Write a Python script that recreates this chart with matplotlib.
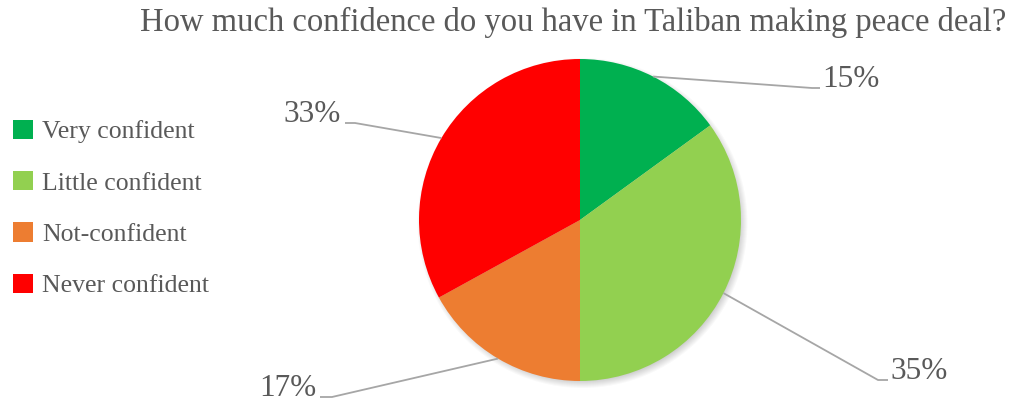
import matplotlib.pyplot as plt
import matplotlib.patches as mpatches
import numpy as np

categories = ["Very confident", "Little confident", "Not-confident", "Never confident"]
shares = [15, 35, 17, 33]
colors = ["#00b050", "#92d050", "#ed7d31", "#ff0000"]
title = "How much confidence do you have in Taliban making peace deal?"

W, H = 1011, 403
fig = plt.figure(figsize=(W / 100, H / 100), dpi=100)
ax = fig.add_axes([0, 0, 1, 1])

serif = ["Liberation Serif", "DejaVu Serif"]
text_color = "#595959"
line_color = "#a6a6a6"

cx, cy, r = 580, 183, 161

# soft drop shadow beneath the pie
for k in range(8):
    ax.add_patch(mpatches.Circle((cx + 2.5, cy - 3), r + 4 - k, color="black",
                                 alpha=0.025, lw=0, zorder=0))

wedges, _ = ax.pie(shares, colors=colors, startangle=90, counterclock=False,
                   center=(cx, cy), radius=r, frame=True,
                   wedgeprops=dict(linewidth=0))
ax.set_xlim(0, W)
ax.set_ylim(0, H)
ax.set_aspect("equal")
ax.axis("off")

# leader line elbows and label positions, one per slice
elbows = [(812, 315), (878, 23), (332, 6), (355, 280)]
tail = [8, 10, -12, -10]
for w, v, (ex, ey), t in zip(wedges, shares, elbows, tail):
    ang = np.deg2rad((w.theta1 + w.theta2) / 2)
    sx, sy = cx + r * np.cos(ang), cy + r * np.sin(ang)
    ax.plot([sx, ex, ex + t], [sy, ey, ey], color=line_color, lw=1.3,
            solid_capstyle="butt", zorder=3)
    ha = "left" if t > 0 else "right"
    ax.text(ex + t + (2 if t > 0 else -4), ey + 1, f"{v}%", ha=ha, va="baseline",
            fontsize=22.5, family=serif, color=text_color)

fig.text(0.995, 0.945, title, ha="right", va="center", fontsize=23.5,
         family=serif, color=text_color)

leg = fig.legend(wedges, categories, loc="upper left",
                 bbox_to_anchor=(0.0, 0.735), frameon=False,
                 handlelength=0.78, handleheight=0.78, handletextpad=0.35,
                 labelspacing=1.08, borderpad=0,
                 prop=dict(family=serif, size=18.5))
for txt in leg.get_texts():
    txt.set_color(text_color)

fig.savefig("out.png", dpi=100)
